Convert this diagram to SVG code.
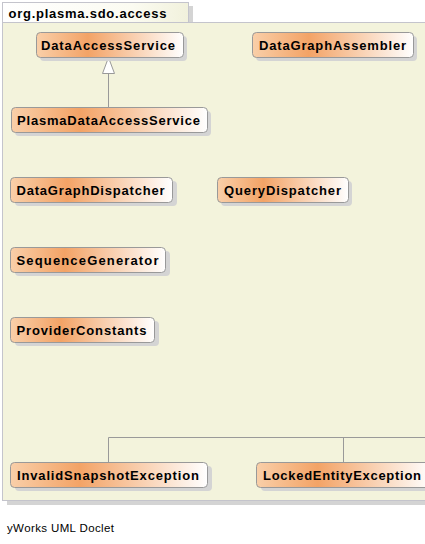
<svg xmlns="http://www.w3.org/2000/svg" width="425" height="544" viewBox="0 0 425 544">
<defs>
<linearGradient id="ng" x1="0" y1="0" x2="1" y2="0">
<stop offset="0" stop-color="#f9cfa9"/>
<stop offset="0.35" stop-color="#f3a366"/>
<stop offset="1" stop-color="#ffffff"/>
</linearGradient>
<linearGradient id="tg" x1="0" y1="0" x2="1" y2="0">
<stop offset="0" stop-color="#ffffff"/>
<stop offset="0.7" stop-color="#fbfbf1"/>
<stop offset="1" stop-color="#f1f1dc"/>
</linearGradient>
</defs>
<style>
.sh{fill:#d4d4d4}
.nb{fill:url(#ng);stroke:#999999;stroke-width:1}
.lb{font-family:"Liberation Sans",Arial,sans-serif;font-weight:bold;font-size:13px;fill:#000}
.ed{fill:none;stroke:#999999;stroke-width:1}
</style>
<rect width="425" height="544" fill="#ffffff"/>
<g id="package">
<rect x="7" y="27" width="420" height="478" class="sh"/>
<rect x="2.5" y="22.5" width="425" height="478" fill="#f3f3dc" stroke="#c4c4cc"/>
<rect x="189" y="6" width="4" height="16" class="sh"/>
<rect x="2.5" y="2.5" width="186" height="20" fill="url(#tg)" stroke="#c4c4cc"/>
<text x="8.5" y="18" class="lb" textLength="158" lengthAdjust="spacing">org.plasma.sdo.access</text>
</g>
<g id="connectors">
<path class="ed" d="M108.5 73 V107"/>
<polygon points="108.5,57.5 102.5,73.5 114.5,73.5" fill="#ffffff" stroke="#999999"/>
<path class="ed" d="M108.5 462 V437.5 H426 M343.5 437.5 V462"/>
</g>
<g id="DataAccessService">
<rect x="40" y="36" width="147" height="25" rx="4" class="sh"/>
<rect x="36.5" y="32.5" width="147" height="25" rx="4" class="nb"/>
<text x="41" y="50" class="lb" textLength="134" lengthAdjust="spacing">DataAccessService</text>
</g>
<g id="DataGraphAssembler">
<rect x="256" y="36" width="161" height="25" rx="4" class="sh"/>
<rect x="252.5" y="32.5" width="161" height="25" rx="4" class="nb"/>
<text x="259" y="50" class="lb" textLength="147" lengthAdjust="spacing">DataGraphAssembler</text>
</g>
<g id="PlasmaDataAccessService">
<rect x="15" y="111" width="196" height="25" rx="4" class="sh"/>
<rect x="11.5" y="107.5" width="196" height="25" rx="4" class="nb"/>
<text x="17" y="125" class="lb" textLength="183" lengthAdjust="spacing">PlasmaDataAccessService</text>
</g>
<g id="DataGraphDispatcher">
<rect x="15" y="181" width="162" height="25" rx="4" class="sh"/>
<rect x="10.5" y="177.5" width="162" height="25" rx="4" class="nb"/>
<text x="16.5" y="195" class="lb" textLength="148" lengthAdjust="spacing">DataGraphDispatcher</text>
</g>
<g id="QueryDispatcher">
<rect x="221" y="181" width="131" height="25" rx="4" class="sh"/>
<rect x="217.5" y="177.5" width="131" height="25" rx="4" class="nb"/>
<text x="224" y="195" class="lb" textLength="117" lengthAdjust="spacing">QueryDispatcher</text>
</g>
<g id="SequenceGenerator">
<rect x="15" y="251" width="155" height="25" rx="4" class="sh"/>
<rect x="10.5" y="247.5" width="155" height="25" rx="4" class="nb"/>
<text x="16.5" y="265" class="lb" textLength="142" lengthAdjust="spacing">SequenceGenerator</text>
</g>
<g id="ProviderConstants">
<rect x="15" y="321" width="144" height="25" rx="4" class="sh"/>
<rect x="10.5" y="317.5" width="144" height="25" rx="4" class="nb"/>
<text x="16.5" y="335" class="lb" textLength="130" lengthAdjust="spacing">ProviderConstants</text>
</g>
<g id="InvalidSnapshotException">
<rect x="15" y="466" width="197" height="25" rx="4" class="sh"/>
<rect x="10.5" y="462.5" width="197" height="25" rx="4" class="nb"/>
<text x="17" y="480" class="lb" textLength="182" lengthAdjust="spacing">InvalidSnapshotException</text>
</g>
<g id="LockedEntityException">
<rect x="261" y="466" width="175" height="25" rx="4" class="sh"/>
<rect x="256.5" y="462.5" width="175" height="25" rx="4" class="nb"/>
<text x="263" y="480" class="lb" textLength="158" lengthAdjust="spacing">LockedEntityException</text>
</g>
<text x="7" y="532" font-family="'Liberation Sans',Arial,sans-serif" font-size="11.5px" fill="#000" textLength="107" lengthAdjust="spacing">yWorks UML Doclet</text>
</svg>
